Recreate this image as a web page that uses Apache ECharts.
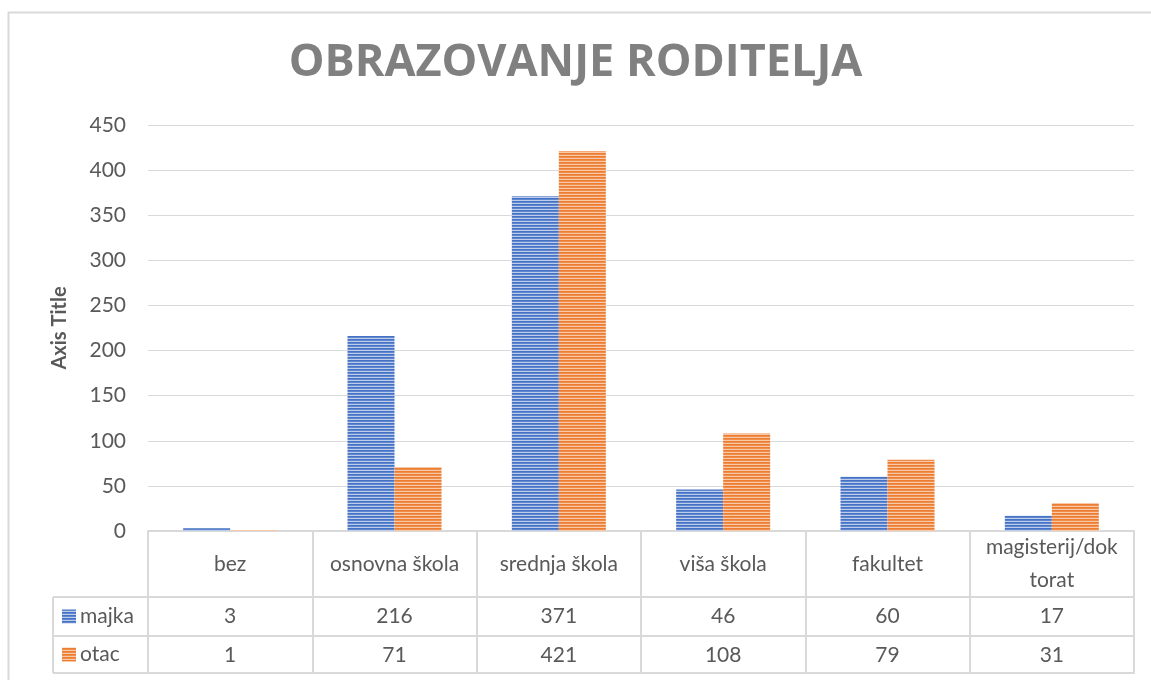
<!DOCTYPE html>
<html>
<head>
<meta charset="utf-8">
<script src="https://cdn.jsdelivr.net/npm/echarts@6/dist/echarts.min.js"></script>
<style>
html,body{margin:0;padding:0;background:#fff;}
#c{width:1151px;height:680px;}
</style>
</head>
<body>
<div id="c"></div>
<script>
const categories = ['bez', 'osnovna škola', 'srednja škola', 'viša škola', 'fakultet', 'magisterij/doktorat'];
const seriesNames = ['majka', 'otac'];
const majka = [3, 216, 371, 46, 60, 17];
const otac = [1, 71, 421, 108, 79, 31];
const yTicks = { min: 0, max: 450, interval: 50 };

function stripes(dark, mid, light) {
  const cv = document.createElement('canvas');
  cv.width = 4; cv.height = 3;
  const ctx = cv.getContext('2d');
  ctx.fillStyle = dark; ctx.fillRect(0, 0, 4, 1);
  ctx.fillStyle = mid; ctx.fillRect(0, 1, 4, 1);
  ctx.fillStyle = light; ctx.fillRect(0, 2, 4, 1);
  return { image: cv, repeat: 'repeat' };
}
const bluePat = stripes('#4472c4', '#5f86cf', '#bccce9');
const orangePat = stripes('#ed7d31', '#ef8e4c', '#f8c9a8');

const FONT = 'Lato, "Open Sans", sans-serif';
const FS = 21;
const TXT = '#595959';
const LINE = '#d9d9d9';

const chart = echarts.init(document.getElementById('c'), null, { renderer: 'canvas' });

const gridL = 148, gridR = 17, gridT = 125, gridB = 149;
const chartBottom = 680 - gridB; // 531
const row1 = 66, row2 = 105, row3 = 142;

function tableAxis(data, offset, showLine) {
  return {
    type: 'category',
    data: data,
    position: 'bottom',
    offset: offset,
    axisLine: { show: showLine, lineStyle: { color: LINE, width: 2 } },
    axisTick: { show: false },
    axisLabel: { show: !!data.length, interval: 0, fontFamily: FONT, fontSize: FS, color: TXT, margin: 19, verticalAlign: 'middle' },
    splitLine: { show: false }
  };
}

const option = {
  backgroundColor: '#ffffff',
  animation: false,
  title: {
    text: 'OBRAZOVANJE RODITELJA',
    left: 'center',
    top: 36,
    textStyle: { fontFamily: '"Open Sans", Lato, sans-serif', fontSize: 45, fontWeight: 'bold', color: '#808080' }
  },
  grid: { left: gridL, right: gridR, top: gridT, bottom: gridB, containLabel: false },
  xAxis: [
    {
      type: 'category',
      data: categories,
      position: 'bottom',
      axisLine: { show: true, lineStyle: { color: LINE, width: 2 } },
      axisTick: { show: true, interval: 0, length: row3, lineStyle: { color: LINE, width: 2 } },
      axisLabel: {
        interval: 0, fontFamily: FONT, fontSize: FS, color: TXT, margin: 33,
        verticalAlign: 'middle', lineHeight: 33,
        formatter: v => v.length > 14 ? v.slice(0, 14) + '\n' + v.slice(14) : v
      },
      splitLine: { show: false }
    },
    tableAxis(majka.map(String), row1, true),
    tableAxis(otac.map(String), row2, true),
    tableAxis([], row3, true)
  ],
  yAxis: {
    type: 'value',
    min: yTicks.min, max: yTicks.max, interval: yTicks.interval,
    name: 'Axis Title',
    nameLocation: 'middle',
    nameRotate: 90,
    nameGap: 78,
    nameTextStyle: { fontFamily: FONT, fontSize: 20, fontWeight: 'bold', color: TXT },
    axisLine: { show: false },
    axisTick: { show: false },
    axisLabel: { fontFamily: FONT, fontSize: FS, color: TXT, margin: 22 },
    splitLine: { lineStyle: { color: LINE, width: 1 } }
  },
  series: [
    { name: seriesNames[0], type: 'bar', data: majka, barWidth: 47, barGap: '0%', itemStyle: { color: bluePat }, xAxisIndex: 0 },
    { name: seriesNames[1], type: 'bar', data: otac, barWidth: 47, barGap: '0%', itemStyle: { color: orangePat }, xAxisIndex: 0 }
  ],
  graphic: []
};
chart.setOption(option);

// legend column of the data table
const y1 = chartBottom + row1, y2 = chartBottom + row2, y3 = chartBottom + row3;
const lx = 53;
const lineStyle = { stroke: LINE, lineWidth: 2 };
const g = [
  { type: 'rect', shape: { x: 8.5, y: 12.5, width: 1300, height: 800 }, style: { fill: 'none', stroke: LINE, lineWidth: 2 }, z: -1 },
  { type: 'line', shape: { x1: lx, y1: y1, x2: gridL, y2: y1 }, style: lineStyle },
  { type: 'line', shape: { x1: lx, y1: y2, x2: gridL, y2: y2 }, style: lineStyle },
  { type: 'line', shape: { x1: lx, y1: y3, x2: gridL, y2: y3 }, style: lineStyle },
  { type: 'line', shape: { x1: lx, y1: y1, x2: lx, y2: y3 }, style: lineStyle },
  { type: 'rect', shape: { x: 62, y: (y1 + y2) / 2 - 7, width: 14, height: 14 }, style: { fill: bluePat } },
  { type: 'rect', shape: { x: 62, y: (y2 + y3) / 2 - 7, width: 14, height: 14 }, style: { fill: orangePat } },
  { type: 'text', x: 80, y: (y1 + y2) / 2, style: { text: seriesNames[0], font: FS + 'px ' + FONT, fill: TXT, verticalAlign: 'middle' } },
  { type: 'text', x: 80, y: (y2 + y3) / 2, style: { text: seriesNames[1], font: FS + 'px ' + FONT, fill: TXT, verticalAlign: 'middle' } }
];
chart.setOption({ graphic: g });
</script>
</body>
</html>
